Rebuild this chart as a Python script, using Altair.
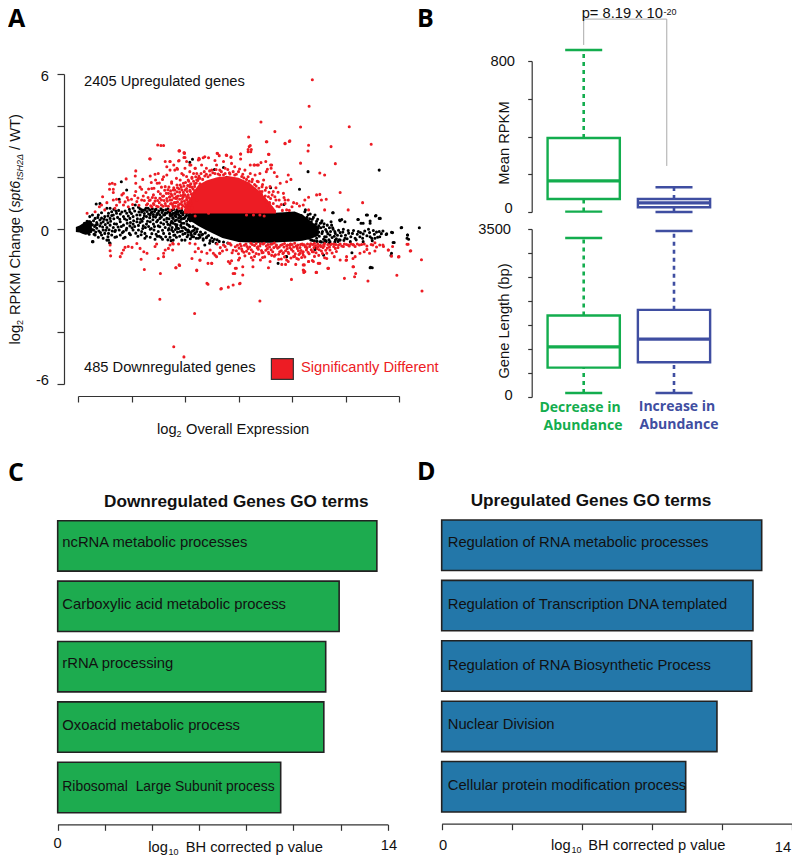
import altair as alt
import pandas as pd

FONT = "Liberation Sans"
RED = "#ed1c24"
GREEN = "#13ad4e"
BLUE = "#3f4ea1"
AXIS = "#333333"

# ---------- Panel A: values (x in axis-tick units, y in log2 change) ----------
red_far_up = [(4.38,5.78),(4.32,4.75),(3.42,4.14),(4.16,3.95),(5.07,3.96),(3.68,3.77),(3.19,3.56),(3.52,3.38),(3.87,3.30),(3.95,3.39),
 (4.31,3.24),(4.30,3.02),(4.73,3.19),(5.48,3.28),(3.20,3.19),(3.24,3.08),(3.18,2.99),(3.57,2.89),(1.49,3.25),(1.55,3.23),(1.60,3.23),
 (1.90,3.03),(1.99,2.92),(1.34,2.72),(2.61,2.92),(2.78,2.85),(2.86,2.80),(3.04,2.90),(2.37,2.80),(2.26,2.74),(4.16,2.55),(4.81,2.53),
 (4.52,2.17),(4.61,2.09),(3.42,2.57),(3.35,2.48),(3.30,2.48),(3.60,2.48),(3.61,2.35),(3.52,2.22)]
red_left_fringe = [(1.35,2.71),(1.08,2.25),(.90,1.94),(.64,1.77),(.59,1.74),(.69,1.73),(1.08,1.77),(.59,1.54),(.66,1.54),(1.07,2.05),(1.21,1.92),
 (1.35,2.05),(1.50,2.15),(.66,1.41),(.85,1.38),(.46,1.25),(.82,1.32),(.66,1.12),(.72,1.15),(.94,1.12),(.54,1.02),(.44,.93),(.17,.61),(.32,.67),
 (.40,.86),(.50,.74),(.69,.80),(.85,.93),(.94,.86),(1.10,1.06),(1.19,1.12),(1.08,1.45),(1.19,1.54),(1.27,1.41),(1.38,1.57),(1.48,1.77),(1.58,1.92),
 (1.66,2.09),(1.72,2.28),(1.63,2.61),(1.72,2.61),(1.88,2.63),(1.79,2.48),(1.86,2.31),(1.66,2.41),(1.89,3.02),(1.98,2.95),(2.00,2.77),(2.11,2.48),
 (2.25,2.67),(2.19,2.35),(1.97,2.09),(2.06,1.90),(2.16,2.15),(2.25,1.96),(1.84,1.96),(1.75,1.77),(1.91,1.70),(1.63,1.64),(1.50,1.45),(1.41,1.32),
 (1.35,1.12),(1.53,1.19),(1.69,1.38),(1.78,1.51),(2.00,1.51),(2.09,1.64),(1.28,.93),(1.41,.99),(1.50,.86),(1.63,.99),(1.72,1.12),(1.84,1.25),(1.94,1.06),
 (2.03,1.25),(2.16,1.38),(1.38,.86),(1.56,.93),(1.78,.86),(1.72,.73),(1.88,.80),(2.00,.86),(2.12,.99),(2.22,1.12),(1.44,1.08),(1.58,1.27),(1.31,1.22),
 (1.66,1.18),(1.74,1.36),(1.83,1.02),(1.90,1.42),(1.97,1.33),(1.79,1.20),(1.62,1.50),(1.70,1.62),(1.86,1.60),(1.94,.95),(2.05,1.02),(2.10,1.15),(2.13,.82),(2.05,.76)]
red_left_dense = [(1.30,.98),(1.33,1.10),(1.36,.90),(1.39,1.22),(1.42,.95),(1.45,1.20),(1.47,.88),(1.49,1.10),(1.52,1.02),(1.54,1.36),(1.56,1.12),(1.59,.88),(1.60,1.28),(1.61,1.10),(1.64,.90),
 (1.65,1.38),(1.67,1.08),(1.68,1.52),(1.69,.88),(1.71,1.24),(1.73,.98),(1.73,1.48),(1.75,1.12),(1.76,1.30),(1.77,.92),(1.79,1.60),(1.80,1.02),(1.81,1.36),(1.82,.88),(1.83,1.18),(1.85,1.44),(1.86,1.05),
 (1.87,1.28),(1.87,.86),(1.89,1.55),(1.90,1.15),(1.91,.98),(1.92,1.30),(1.93,1.62),(1.95,1.18),(1.96,.90),(1.97,1.42),(1.98,1.66),(1.99,1.08),(2.00,1.32),(2.01,1.80),(2.02,.92),(2.03,1.15),(2.04,1.45),
 (2.05,1.68),(2.06,1.02),(2.07,1.22),(2.07,1.85),(2.08,.82),(2.09,1.50),(2.10,1.08),(2.11,1.75),(2.12,1.35),(2.13,2.00),(2.15,1.55),(2.16,1.85),(2.18,1.65),(2.20,2.02),(2.21,1.78),(2.24,1.88),(2.26,2.05),
 (.72,.92),(.78,1.05),(.88,1.05),(.92,1.22),(1.00,1.15),(1.02,.95),(1.06,1.30),(1.12,1.20),(1.14,.92),(1.16,1.62),(1.24,1.10),(1.22,1.28),(1.32,1.55),(1.37,1.80),(1.42,1.58),(1.45,1.90),(1.52,1.78),(1.56,1.62),(1.44,2.12),(1.60,2.02)]
red_top_fringe = [(3.53,3.38),(3.87,3.32),(3.96,3.41),(3.22,3.23),(3.18,3.08),(3.23,2.99),(1.89,3.03),(1.99,2.95),(1.98,2.77),(1.89,2.65),(1.72,2.61),
 (1.85,2.35),(1.81,2.28),(2.34,2.76),(2.44,2.76),(2.27,2.70),(2.60,2.93),(2.64,2.84),(2.77,2.86),(2.86,2.77),(3.04,2.90),(3.04,2.71),(3.56,2.89),(2.56,2.65),
 (2.72,2.61),(2.87,2.54),(3.22,2.48),(3.29,2.48),(3.37,2.48),(3.51,2.61),(3.62,2.48),(3.54,2.31),(3.67,2.19),(3.93,2.09),(3.90,1.83),(3.98,1.92),(3.78,1.77),
 (3.72,2.03),(3.59,1.64),(3.65,1.45),(3.56,1.25),(3.84,1.38),(3.76,1.12),(3.87,.99),(3.93,1.12),(4.00,.86),(4.09,.99),(3.65,.99),(3.76,.86),(3.90,.74),(3.53,.93),
 (2.03,2.61),(2.00,2.35),(2.09,2.48),(2.19,2.35),(2.09,2.22),(2.22,2.15),(2.31,2.48),(2.40,2.35),(2.50,2.28),(2.59,2.48),(2.65,2.28),(2.75,2.35),(2.93,2.41),(3.00,2.22),
 (3.12,2.28),(3.22,2.15),(3.31,2.09),(3.40,2.15),(3.47,1.90),(3.37,1.83),(1.94,2.15),(2.03,2.03),(2.13,1.96),(1.91,1.90),(1.97,1.77),(1.85,1.70),(1.75,1.83),(1.81,1.51),
 (1.94,1.51),(2.03,1.57),(2.09,1.70),(1.72,1.25),(1.85,1.19),(1.97,1.25),(1.75,.99),(1.88,.93),(2.00,.99),(2.06,1.32),(1.78,.80),(1.94,.80),(2.03,.74),(2.09,.93),(2.16,1.19),
 (2.22,1.90),(2.28,1.96),(2.37,2.05),(2.47,2.09),(2.56,2.15),(2.65,2.09),(2.75,2.15),(2.84,2.13),(2.93,2.09),(3.06,2.03),(3.15,1.92),(3.25,1.83),(3.33,1.66),(3.40,1.45),(3.48,1.19),
 (3.56,.80),(2.19,.50),(2.44,.61),(3.15,.54),(3.28,.54),(3.40,.54),(3.48,.50),(2.13,1.62),(2.18,1.75),(2.10,1.45),(2.18,1.48),(2.14,1.28),(2.25,1.55),(2.28,1.75),(2.04,1.12),(3.43,1.35),(3.50,1.50),(3.44,1.64),(3.52,1.05),(3.60,1.18),(3.68,1.25),
 (2.30,2.15),(2.33,1.92),(2.36,2.22),(2.40,2.12),(2.43,2.02),(2.46,2.25),(2.52,2.18),(2.58,2.30),(2.62,2.13),(2.68,2.22),(2.72,2.10),(2.80,2.30),(2.83,2.18),(2.90,2.22),(2.96,2.12),(3.02,2.32),(3.08,2.12),(3.10,1.98),(3.18,2.02),(3.20,1.85),
 (3.26,1.92),(3.30,1.72),(3.35,1.85),(3.38,1.58),(3.44,1.45),(3.45,1.72),(3.50,1.28),(3.52,1.60),(3.57,1.42),(3.58,1.02),(3.63,1.32),(3.62,.82),(3.70,1.12),(3.72,.88),(3.74,1.42),(3.80,.95),(3.82,.72),(3.85,1.22),(3.70,1.60),(3.95,.72)]
red_right = [(5.05,.74),(5.32,1.02),(4.90,1.41),(4.55,1.12),(4.46,1.32),(4.52,1.34),(4.64,1.15),(4.31,1.23),(4.24,1.12),(4.14,.89),(4.03,1.02),(3.87,1.12),(4.31,.74),(4.61,.74),(4.21,.93),
 (5.55,-.53),(5.64,-.62),(5.71,-.68),(5.80,-.81),(5.88,-.68),(6.17,-.59),(6.22,-.84),(6.00,-1.07),(5.86,-1.05),(5.15,-1.46),(4.68,-1.52),(5.02,-1.20),(4.90,-1.20),(4.65,-1.14),(4.52,-1.33),
 (4.40,-1.26),(4.31,-1.26),(4.21,-1.39),(4.87,-.62),(4.96,-.68),(5.05,-.62),(5.15,-.62),(4.81,-.75),(4.71,-.81),(5.40,-.79),(5.55,-.85),(5.45,-.94),(5.27,-.94),(5.18,-1.07),(5.02,-1.07),(4.65,-.94),
 (4.49,-.68),(4.34,-.62),(4.21,-.62),(4.09,-.68),(3.97,-.62),(4.59,-.62),(4.40,-.88),(4.27,-.81),(4.15,-.94),(4.03,-1.07),(3.90,-1.20),(4.21,-1.01),(4.09,-1.14)]
red_down_sparse = [(.60,-.62),(.60,-.84),(.61,-1.04),(.88,-.71),(.94,-.68),(1.01,-.71),(.85,-.81),(.82,-.94),(.79,-1.07),(1.10,-.56),(1.16,-.75),
 (1.23,-.88),(1.18,-1.17),(1.24,-1.57),(1.29,-.94),(1.44,-.68),(1.47,-.58),(1.50,-1.14),(1.60,-.94),(1.63,-.81),(1.69,-.75),(1.72,-.62),(1.78,-.58),
 (1.60,-1.07),(1.54,-1.72),(1.83,-1.50),(1.90,-1.41),(1.53,-2.72),(1.79,-4.56),(1.98,-4.95),(2.18,-3.27),(2.67,-2.32),(2.81,-2.25),(2.90,-2.17),
 (3.02,-2.12),(2.41,-2.10),(2.43,-2.14),(3.40,-2.79),(3.99,-1.95),(4.22,-1.61),(4.22,-1.68),(4.45,-1.68),(4.67,-1.52),(4.98,-1.91),(5.14,-1.46),
 (5.19,-1.72),(5.17,-1.85),(5.42,-2.01),(5.96,-1.79),(5.99,-1.08),(6.21,-.85),(6.42,-1.19),(6.43,-2.40),(6.15,-.59),(5.80,-.81),(5.70,-.62),
 (5.51,-.62),(5.35,-.88),(5.14,-1.14),(5.01,-1.21),(4.79,-1.07),(2.22,-1.61),(2.13,-1.14),(2.28,-1.21),(2.43,-1.33),(2.50,-1.33),(2.53,-.94),
 (2.59,-1.07),(2.65,-.94),(2.90,-1.72),(2.93,-1.72),(2.96,-1.52),(2.84,-1.33),(3.00,-1.20)]
red_down_band = [(1.77,-.55),(1.88,-.58),(1.77,-.81),(1.89,-1.39),(1.83,-1.50),(2.28,-1.20),(2.22,-1.59),(2.50,-1.33),(2.68,-2.30),(3.03,-2.10),(2.09,-.55),(2.19,-.58),(2.19,-.88),(2.25,-.75),(2.31,-.88),
 (2.41,-.94),(2.47,-.81),(2.56,-1.01),(2.65,-.94),(2.72,-.62),(2.81,-.55),(2.81,-1.26),(2.87,-1.23),(2.94,-1.52),(3.08,-1.46),(3.08,-1.78),(3.27,-1.20),(3.27,-1.46),(3.56,-1.50),(3.81,-1.37),(3.88,-1.37),
 (4.07,-1.37),(4.23,-1.39),(4.21,-1.59),(4.24,-1.65),(4.46,-1.68),(4.68,-1.52),
 (2.84,-.56),(2.94,-.69),(3.03,-.58),(3.11,-.63),(3.23,-.55),(3.30,-.64),(3.41,-.57),(3.48,-.55),(3.60,-.59),(3.67,-.54),(3.79,-.63),(3.86,-.56),(3.97,-.58),(4.05,-.55),(4.16,-.60),(4.23,-.61),(4.35,-.57),(4.42,-.55),(4.53,-.63),(4.61,-.56),(4.72,-.60),(4.79,-.58),
 (2.90,-.82),(3.01,-.74),(3.07,-.85),(3.18,-.76),(3.24,-.80),(3.35,-.73),(3.43,-.83),(3.54,-.76),(3.61,-.80),(3.73,-.74),(3.80,-.84),(3.91,-.76),(3.99,-.79),(4.10,-.75),(4.17,-.83),(4.28,-.73),(4.36,-.80),(4.47,-.76),(4.55,-.85),(4.66,-.74),(4.75,-.93),(4.83,-.87),
 (3.00,-.96),(3.12,-1.04),(3.20,-.95),(3.30,-1.06),(3.38,-.98),(3.49,-1.08),(3.57,-.96),(3.67,-1.05),(3.75,-.98),(3.86,-1.08),(3.94,-.95),(4.05,-1.06),(4.13,-.99),(4.24,-1.08),(4.32,-.96),(4.42,-1.06),(4.50,-1.02),(4.61,-1.11),
 (3.41,-1.20),(3.59,-1.26),(3.75,-1.17),(3.93,-1.26),(4.12,-1.17),(4.31,-1.26),(4.49,-1.33),(2.98,-.63),(3.16,-.68),(3.36,-.69),(3.52,-.66),(3.70,-.67),(3.90,-.65),(4.08,-.66),(4.26,-.68),(4.44,-.65),(3.10,-.90),(3.46,-.91),(3.84,-.92),(4.20,-.92),(4.58,-.72)]
red_down_dense = [(2.60,-.58),(2.66,-.72),(2.75,-.68),(2.78,-.80),(2.86,-.62),(2.88,-.92),(2.96,-.84),(3.05,-.66),(3.06,-.78),(3.14,-.58),(3.15,-.86),(3.21,-.70),(3.26,-.60),(3.27,-.88),(3.33,-.56),(3.33,-.95),(3.37,-.78),(3.40,-.66),
 (3.44,-.92),(3.46,-.58),(3.51,-.82),(3.55,-.60),(3.56,-.90),(3.58,-.70),(3.63,-.58),(3.64,-.88),(3.66,-.72),(3.69,-1.00),(3.71,-.62),(3.76,-.70),(3.77,-.88),(3.82,-.60),(3.83,-.95),(3.85,-.70),(3.88,-.84),(3.92,-.62),(3.93,-.90),(3.96,-.72),
 (4.00,-.60),(4.02,-.86),(4.03,-.70),(4.06,-.96),(4.11,-.62),(4.12,-.84),(4.15,-.72),(4.19,-.58),(4.21,-.88),(4.25,-.70),(4.29,-.58),(4.30,-.90),(4.33,-.68),(4.38,-.88),(4.39,-.60),(4.41,-.72),(4.45,-.92),(4.48,-.58),(4.51,-.80),(4.54,-.68),
 (4.57,-.95),(4.60,-.66),(4.63,-.82),(4.67,-.60),(4.70,-.70),(4.74,-.58),(4.78,-.68),(4.82,-.60),(4.86,-.72),(4.90,-.58),(4.93,-.66),(4.98,-.58),(5.02,-.60),(5.07,-.66),(5.10,-.58),(5.14,-.60),(5.18,-.68),(5.22,-.58),(5.26,-.62),(5.30,-.60),
 (5.35,-.58),(5.40,-.66),(5.48,-.60),(5.58,-.70),(3.45,-1.10),(3.62,-1.02),(3.80,-1.16),(3.98,-1.12),(4.18,-1.10),(4.38,-1.22),(2.70,-.85),(3.02,-1.12),(3.24,-1.10)]
black_outliers = [(2.14,2.70),(2.09,2.58),(.81,1.83),(.91,1.51),(.77,1.15),(4.30,2.22),(5.63,2.28),(4.14,1.54),(6.04,.05),(6.38,.05),(6.16,-.23),(6.15,-.36),
 (5.89,-.52),(5.86,-.13),(5.76,-.21),(5.63,.41),(5.56,.50),(5.39,.54),(5.46,.22),(5.29,.22),(5.23,.37),(4.89,.35),(4.76,.63),(4.24,.67),(3.74,-1.33),
 (3.89,-1.07),(5.46,-1.50),(5.50,-1.50),(5.85,-1.03),(4.44,-.75),(.28,-.49),(.54,-.43),(.59,-.53),(2.55,2.30),(2.78,2.00),(3.05,1.80),(3.30,1.25),(3.85,.95),(3.60,1.60),(2.72,2.38)]
black_left = [(.22,.48),(.27,.54),(.32,.41),(.38,.54),(.44,.63),(.50,.48),(.57,.61),(.63,.67),(.67,.76),(.34,.97),(.41,.99),(.54,.80),(.60,.80),(.22,.28),(.29,.32),(.35,.25),(.41,.35),(.47,.28),(.54,.35),(.60,.41),
 (.66,.54),(.72,.61),(.79,.58),(.85,.48),(.91,.61),(.97,.67),(1.03,.80),(1.07,.93),(1.13,.84),(1.19,.74),(1.25,.74),(1.31,.80),(1.38,.67),(1.44,.74),(1.50,.61),(1.56,.74),(1.63,.61),(1.69,.67),
 (.22,.03),(.29,-.04),(.35,.03),(.41,.12),(.47,-.04),(.54,.06),(.60,.15),(.66,.06),(.72,.19),(.79,.28),(.85,.15),(.91,.35),(.97,.41),(1.03,.48),(1.10,.54),(1.16,.54),(1.22,.41),(1.28,.48),(1.35,.54),(1.41,.48),
 (1.47,.54),(1.53,.41),(1.60,.54),(1.66,.41),(1.72,.54),(1.78,.41),(1.84,.58),(.32,-.23),(.38,-.32),(.44,-.23),(.27,-.49),(.50,-.17),(.57,-.17),(.63,-.23),(.69,-.10),(.77,-.04),(.85,-.10),(.91,.03),(.97,.12),
 (1.03,.19),(1.10,.28),(1.16,.25),(1.22,.12),(1.28,.19),(1.35,.28),(1.41,.19),(1.47,.28),(1.53,.09),(1.60,.19),(1.66,.28),(1.72,.15),(1.78,.22),(1.84,.35),(1.91,.28),(1.97,.41),(.47,-.36),(.57,-.43),(.60,-.55),
 (.69,-.32),(.79,-.23),(.88,-.32),(.96,-.17),(1.03,-.04),(1.13,-.04),(1.19,-.10),(1.25,-.17),(1.35,-.01),(1.42,-.04),(1.50,-.10),(1.60,-.17),(1.69,-.04),(1.78,-.10),(1.86,.03),(1.94,.06),(2.00,-.17),(2.06,-.04),
 (2.12,-.23),(2.19,.03),(.85,-.36),(1.25,-.36),(1.35,-.32),(1.44,-.40),(1.55,-.32),(1.72,-.32),(1.84,-.32),(1.94,-.43),(2.00,-.43),(1.72,.62),(1.76,.55),(1.80,.62),(1.83,.48),(1.87,.66),(1.90,.50),(1.93,.62),(1.96,.55),
 (1.99,.66),(2.01,.48),(2.03,.60),(2.06,.40),(2.08,.55),(2.10,.32),(2.12,.48),(1.75,.30),(1.82,.18),(1.88,.42),(1.92,.14),(1.98,.22),(2.04,.18),(2.09,.10),(1.70,.02),(1.76,.06),(1.82,-.02),(1.88,.02),(1.95,-.08),(2.02,-.02),
 (2.08,-.10),(2.14,-.08),(2.18,-.18),(2.22,-.10),(2.26,-.22),(2.16,-.30),(2.21,-.36),(2.28,-.32),(2.34,-.38),(2.40,-.34),(2.10,-.38),(2.04,-.30),(1.75,-.04),(1.84,.09),(1.94,.22),(1.81,-.23),(1.91,-.10),(2.00,.03),
 (1.78,-.43),(2.06,-.23),(2.13,-.30),(2.19,-.17),(2.25,-.36),(2.34,-.43),(2.41,-.30),(2.47,-.45),(2.31,-.23),(2.37,-.62),(1.74,-.45),(.12,.22),(.15,-.14),(.17,.30),(.19,.14),(.21,-.20),(.16,.10),(.24,-.10),(.27,.16),(.30,-.20),(.33,.15)]
black_band_top = [(1.16,.78),(1.19,.66),(1.22,.72),(1.24,.60),(1.27,.80),(1.29,.68),(1.32,.58),(1.34,.74),(1.37,.62),(1.39,.78),(1.41,.56),(1.43,.68),(1.46,.76),(1.48,.60),(1.51,.70),(1.53,.54),(1.55,.78),(1.57,.64),(1.59,.72),(1.62,.55),
 (1.64,.74),(1.66,.62),(1.68,.78),(1.71,.68),(1.73,.50),(1.75,.72),(1.77,.60),(1.79,.76),(1.81,.52),(1.83,.66),(1.85,.74),(1.88,.56),(1.90,.70),(1.92,.48),(1.94,.72),(1.97,.62),(1.99,.42),(2.01,.70),(2.03,.52),(2.05,.66),(2.07,.38),(2.09,.62),(2.11,.45),(2.13,.66),(2.15,.35)]
black_left_dense = [(.13,.05),(.24,.22),(.26,-.02),(.31,.10),(.33,-.12),(.37,.45),(.36,.18),(.39,-.08),(.43,.22),(.44,.42),(.46,.08),(.49,.38),(.51,.17),(.52,-.05),(.56,.50),(.56,.24),(.58,-.03),(.61,.30),(.63,.52),(.64,-.08),(.67,.40),(.68,.20),
 (.71,.70),(.70,-.05),(.74,.45),(.75,.08),(.76,.72),(.78,.38),(.81,.10),(.82,.66),(.83,-.14),(.87,.40),(.88,.70),(.90,-.04),(.92,.22),(.94,.50),(.96,.76),(.98,.25),(1.00,.60),(1.01,.05),(1.04,.32),(1.06,.70),(1.06,.10),(1.08,-.16),(1.11,.40),
 (1.13,.14),(1.14,.66),(1.17,.38),(1.18,-.22),(1.20,.30),(1.21,.02),(1.24,.50),(1.26,.06),(1.28,-.28),(1.30,.30),(1.32,.10),(1.34,.44),(1.37,.02),(1.38,-.18),(1.40,.36),(1.43,.10),(1.45,.46),(1.46,-.20),(1.49,.34),(1.50,.12),(1.52,-.28),(1.55,.24),
 (1.56,.46),(1.58,-.05),(1.61,.36),(1.63,.06),(1.64,-.30),(1.68,.18),(1.70,.40),(1.71,-.18),(1.74,.24),(1.77,.44),(1.79,-.24),(1.81,.32),(1.85,.16),(1.86,-.12),(1.89,.30),(1.90,-.28),(1.93,.38),(1.96,-.20),(1.98,.06),(2.03,.30),(2.05,-.12),(2.07,.14),
 (2.11,-.15),(2.15,.10),(2.17,-.05),(2.23,.00),(2.29,-.12),(2.33,-.20),(2.38,-.15),(2.44,-.25),(2.50,-.35),(2.55,-.40),(2.60,-.42),(2.52,-.48),(2.64,-.48),(2.72,-.50),(2.58,-.55),(2.80,-.54),(2.46,-.55),(1.68,-.42),(1.58,-.40),(1.48,-.28),(1.12,-.28),(.98,-.22),(.72,-.30),(.56,-.30),(.42,-.14)]
black_right = [(4.77,.63),(5.41,.54),(5.57,.52),(5.65,.41),(5.24,.37),(5.33,.22),(5.46,.31),(4.90,.32),(4.93,.37),(4.99,.28),(4.73,.28),(4.74,.15),(6.05,.06),(5.88,-.14),(5.77,-.19),(6.16,-.23),(6.18,-.40),(5.91,-.52),
 (5.86,-.94),(5.47,-1.48),(4.43,.54),(4.34,.58),(4.25,.74),(4.17,.52),(4.56,.32),(4.53,.22),(4.43,.15),(4.34,.22),(4.21,.28),(4.15,.35),(4.49,.03),(4.59,.09),(4.37,-.04),(4.56,-.17),(4.27,.03),(4.65,-.10),(4.71,-.23),
 (4.81,-.17),(4.77,-.01),(4.90,-.14),(4.96,-.01),(5.05,-.06),(5.13,-.17),(5.24,-.10),(5.33,-.19),(5.43,-.01),(5.52,-.06),(5.63,-.10),(5.27,-.30),(5.18,-.36),(5.46,-.30),(5.55,-.36),(5.64,-.30),(4.99,-.36),(4.90,-.43),
 (4.81,-.43),(4.71,-.49),(4.62,-.43),(4.46,-.36),(4.53,-.49),(4.34,-.23),(4.24,-.30),(5.09,-.49),(5.33,-.49),(5.50,-.45),(5.12,-.92),(4.43,-.79),(4.59,-1.01),(3.90,-1.07),(4.38,.38),(4.28,.45),(4.46,.30),(4.40,.08),(4.50,-.12),(4.61,-.30),(4.44,-.22),(4.38,-.44),(4.32,.12)]
black_right_dense = [(4.30,.55),(4.33,.40),(4.36,.28),(4.38,.05),(4.40,.45),(4.42,-.12),(4.45,.20),(4.46,-.02),(4.48,.38),(4.50,.12),(4.51,-.28),(4.54,.05),(4.55,.25),(4.57,-.10),(4.59,-.40),(4.60,.20),(4.63,-.02),(4.64,-.30),(4.66,.15),(4.67,-.18),
 (4.69,-.42),(4.70,.05),(4.72,-.10),(4.75,-.33),(4.76,.05),(4.79,-.28),(4.80,-.10),(4.83,-.38),(4.85,-.24),(4.87,-.05),(4.88,-.42),(4.92,-.26),(4.95,-.12),(4.97,-.44),(5.00,-.24),(5.03,-.38),(5.06,-.16),(5.10,-.30),(5.15,-.06),(5.20,-.42),
 (5.22,-.20),(5.28,-.14),(5.32,-.36),(5.36,-.08),(5.40,-.26),(5.45,-.14),(5.49,-.36),(5.54,-.20),(5.58,-.12),(5.60,-.32),(5.67,-.18),(5.70,-.08),(4.30,.30),(4.28,-.20),(4.31,-.35),(4.35,-.42),(4.42,-.46),(4.47,-.48),(4.55,-.50),(4.60,-.52),(4.64,-.48),(4.70,-.54),(4.80,-.50),(4.86,-.48)]

red_core_x = [1.98,2.05,2.16,2.25,2.40,2.60,2.80,3.00,3.20,3.40,3.55,3.70]
red_core_top = [.75,1.05,1.45,1.70,1.88,2.00,2.05,1.98,1.80,1.45,1.10,.72]
red_core_bottom = [.60,.60,.60,.60,.60,.60,.60,.60,.60,.60,.60,.60]
black_core_x = [2.05,2.15,2.25,2.40,2.70,3.00,3.30,3.60,3.85,4.05,4.20,4.35,4.50]
black_core_top = [.55,.62,.64,.62,.62,.62,.62,.62,.65,.68,.55,.30,.08]
black_core_bottom = [.35,.25,.12,-.05,-.35,-.50,-.53,-.53,-.50,-.48,-.45,-.38,-.26]
black_blob_x = [-.04,.03,.08,.14,.20,.26]
black_blob_top = [.08,.14,.20,.28,.34,.30]
black_blob_bottom = [-.12,-.14,-.18,-.22,-.20,-.12]
ma_y_ticks = [-6,-4,-2,0,2,4,6]
ma_x_ticks = [0,1,2,3,4,5,6]

# ---------- Panel B ----------
box_groups = ["Decrease in Abundance","Increase in Abundance"]
box_pos = [1,2]
rpkm_low = [2,0]; rpkm_q1 = [69,25]; rpkm_med = [165,48]; rpkm_q3 = [392,69]; rpkm_high = [858,131]
len_low = [84,84]; len_q1 = [612,724]; len_med = [1044,1204]; len_q3 = [1698,1816]; len_high = [3312,3458]
rpkm_ticks = [0,200,400,600,800]
len_ticks = [0,500,1000,1500,2000,2500,3000,3500]
bracket_x = [1,1,1.92,1.92]; bracket_y = [885,1022,1022,244]

# ---------- Panels C, D ----------
c_terms = ["ncRNA metabolic processes","Carboxylic acid metabolic process","rRNA processing","Oxoacid metabolic process","Ribosomal \u00a0Large Subunit process"]
c_vals = [13.54,11.94,11.37,11.29,9.46]
c_dy = [-3.1,-1.7,-2.4,-.7,-.2]
c_font = [14.8,14.8,14.8,14.8,13.9]
d_terms = ["Regulation of RNA metabolic processes","Regulation of Transcription DNA templated","Regulation of RNA Biosynthetic Process","Nuclear Division","Cellular protein modification process"]
d_vals = [12.8,12.45,12.4,11.01,9.76]
d_dy = [-2.5,-1,.3,-1.5,-.4]
d_font = [14.8,14.8,14.8,14.8,14.8]
c_ticks = [0,2,4,6,8,10,12,14]
d_ticks = [0,2.8,5.6,8.4,11.2,14]

W, H = 784, 848
def px(v): return v - 8

def txt(x, y, s, size=14.7, color="#111111", weight="normal", style="normal", angle=0, align="left", font=FONT, baseline="middle"):
    return alt.Chart(pd.DataFrame({"label":[s]})).mark_text(fontSize=size, color=color, fontWeight=weight, fontStyle=style, angle=angle,
        align=align, baseline=baseline, font=font).encode(text="label:N", x=alt.value(px(x)), y=alt.value(px(y)))

layers = []
ax_common = dict(title=None, labels=False, grid=False, domainColor=AXIS, tickColor=AXIS, domainWidth=1.2, tickWidth=1.2)

# Panel A
xA = alt.Scale(domain=[0,6], range=[px(78), px(399)])
yA = alt.Scale(domain=[-6,6], range=[px(384), px(74)])
def pts(data, color, axes=False):
    df = pd.DataFrame(data, columns=["x","y"])
    xax = alt.Axis(orient="bottom", offset=px(396)-H, values=ma_x_ticks, tickSize=6, **ax_common) if axes else None
    yax = alt.Axis(orient="left", offset=-px(64), values=ma_y_ticks, tickSize=7, **ax_common) if axes else None
    return alt.Chart(df).mark_circle(size=9.5, opacity=1, color=color).encode(x=alt.X("x:Q", scale=xA, axis=xax), y=alt.Y("y:Q", scale=yA, axis=yax))
def core(xs, top, bottom, color):
    df = pd.DataFrame({"x":xs,"top":top,"bottom":bottom})
    return alt.Chart(df).mark_area(color=color, opacity=1).encode(x=alt.X("x:Q", scale=xA, axis=None), y=alt.Y("top:Q", scale=yA, axis=None), y2="bottom:Q")

layers += [pts(black_left + black_band_top + black_left_dense + black_right + black_right_dense + black_outliers, "#000000", axes=True),
           core(black_blob_x, black_blob_top, black_blob_bottom, "#000000"),
           core(black_core_x, black_core_top, black_core_bottom, "#000000"),
           core(red_core_x, red_core_top, red_core_bottom, RED),
           pts(red_far_up + red_left_fringe + red_left_dense + red_top_fringe + red_right + red_down_sparse + red_down_band + red_down_dense, RED)]
legend_box = pd.DataFrame({"x":[3.615],"x2":[4.025],"y":[-5.02],"y2":[-5.82]})
layers.append(alt.Chart(legend_box).mark_rect(fill=RED, stroke="#333333", strokeWidth=1.2).encode(
    x=alt.X("x:Q", scale=xA, axis=None), x2="x2:Q", y=alt.Y("y:Q", scale=yA, axis=None), y2="y2:Q"))
layers += [txt(84,81.5,"2405 Upregulated genes"), txt(84,368,"485 Downregulated genes"), txt(301,368,"Significantly Different",color=RED),
           txt(49,77,"6",align="right"), txt(49,232,"0",align="right"), txt(49,381,"-6",align="right")]
# rotated y title, pieces bottom to top
layers += [txt(15.5,344.5,"log",angle=270), txt(19.5,325,"2",size=9,angle=270), txt(15.5,315,"RPKM Change (",angle=270),
           txt(15.5,207.5,"spt6",size=14,style="italic",angle=270), txt(19.5,180,"tSH2Δ",size=9,style="italic",angle=270),
           txt(15.5,150,"/ WT)",angle=270)]
layers += [txt(157,430,"log"), txt(176.5,434,"2",size=9), txt(186,430,"Overall Expression")]

# Panel B
xB = alt.Scale(domain=[1,2], range=[px(583.7), px(674)])
def box_panel(low,q1,med,q3,high,yscale,ticks):
    out=[]
    for i,(color) in enumerate([GREEN,BLUE]):
        df = pd.DataFrame({"pos":[box_pos[i]],"left":[box_pos[i]-.4],"right":[box_pos[i]+.4],"capl":[box_pos[i]-.205],"capr":[box_pos[i]+.205],
                           "low":[low[i]],"q1":[q1[i]],"med":[med[i]],"q3":[q3[i]],"high":[high[i]]})
        base = alt.Chart(df)
        yax = alt.Axis(orient="left", offset=-px(531.7), values=ticks, tickSize=4, **ax_common) if (i==0) else None
        xq = alt.X("pos:Q", scale=xB, axis=None)
        out.append(base.mark_rule(color=color, strokeWidth=2.6, strokeDash=[4,4]).encode(x=xq, y=alt.Y("q3:Q", scale=yscale, axis=yax), y2="high:Q"))
        out.append(base.mark_rule(color=color, strokeWidth=2.6, strokeDash=[4,4]).encode(x=xq, y=alt.Y("low:Q", scale=yscale, axis=None), y2="q1:Q"))
        for f in ["low","high"]:
            out.append(base.mark_rule(color=color, strokeWidth=2.4).encode(x=alt.X("capl:Q", scale=xB, axis=None), x2="capr:Q", y=alt.Y(f+":Q", scale=yscale, axis=None)))
        out.append(base.mark_rect(filled=False, stroke=color, strokeWidth=2.4).encode(x=alt.X("left:Q", scale=xB, axis=None), x2="right:Q",
                   y=alt.Y("q1:Q", scale=yscale, axis=None), y2="q3:Q"))
        out.append(base.mark_rule(color=color, strokeWidth=3.2).encode(x=alt.X("left:Q", scale=xB, axis=None), x2="right:Q", y=alt.Y("med:Q", scale=yscale, axis=None)))
    return out
yB1 = alt.Scale(domain=[0,800], range=[px(212), px(61)])
yB2 = alt.Scale(domain=[0,3500], range=[px(397), px(229)])
layers += box_panel(rpkm_low,rpkm_q1,rpkm_med,rpkm_q3,rpkm_high,yB1,rpkm_ticks)
layers += box_panel(len_low,len_q1,len_med,len_q3,len_high,yB2,len_ticks)
br = pd.DataFrame({"x":bracket_x,"y":bracket_y,"o":[0,1,2,3]})
layers.append(alt.Chart(br).mark_line(color="#aaaaaa", strokeWidth=1).encode(x=alt.X("x:Q", scale=xB, axis=None), y=alt.Y("y:Q", scale=yB1, axis=None), order="o:Q"))
layers += [txt(515,62,"800",align="right"), txt(512.7,209,"0",align="right"), txt(511,229.5,"3500",align="right"), txt(512.7,396,"0",align="right"),
           txt(505,143,"Mean RPKM",angle=270,align="center"), txt(505,321,"Gene Length (bp)",angle=270,align="center"),
           txt(581.7,13.5,"p= 8.19 x 10"), txt(663.5,11.5,"-20",size=9)]
BF = "Open Sans"
layers += [txt(580,407.5,"Decrease in",size=14,color=GREEN,weight="bold",align="center",font=BF), txt(583,425.5,"Abundance",size=14,color=GREEN,weight="bold",align="center",font=BF),
           txt(677,406.5,"Increase in",size=14,color=BLUE,weight="bold",align="center",font=BF), txt(679,424.5,"Abundance",size=14,color=BLUE,weight="bold",align="center",font=BF)]

# Panels C, D
def bars(terms, vals, dys, fonts, ticks, color, x0, x1, top, bottom, axis_y, text_x):
    xs = alt.Scale(domain=[0,14], range=[px(x0), px(x1)])
    ys = alt.Scale(type="band", domain=terms, range=[px(top), px(bottom)], paddingInner=.165, paddingOuter=0)
    df = pd.DataFrame({"term":terms,"value":vals})
    out = [alt.Chart(df).mark_bar(color=color, stroke="#222222", strokeWidth=1.6).encode(
        x=alt.X("value:Q", scale=xs, axis=alt.Axis(orient="bottom", offset=px(axis_y)-H, values=ticks, tickSize=6, **ax_common)),
        y=alt.Y("term:N", scale=ys, sort=terms, axis=None))]
    for t,dy,fs in zip(terms,dys,fonts):
        out.append(alt.Chart(pd.DataFrame({"term":[t]})).mark_text(fontSize=fs, color="#111111", align="left", baseline="middle", font=FONT, dy=dy).encode(
            x=alt.value(px(text_x)), y=alt.Y("term:N", scale=ys, sort=terms, axis=None), text="term:N"))
    return out
layers += bars(c_terms,c_vals,c_dy,c_font,c_ticks,"#1dab4f",57.7,387.7,520.7,812.7,824.3,62.3)
layers += bars(d_terms,d_vals,d_dy,d_font,d_ticks,"#2377a9",441.7,791.7,520,812,823.7,447.7)
layers += [txt(104,501.7,"Downregulated Genes GO terms",size=17.2,weight="bold"), txt(470.7,500.7,"Upregulated Genes GO terms",size=17.2,weight="bold"),
           txt(57.7,844,"0",align="center"), txt(389,846,"14",align="center"), txt(443,846,"0",align="center"), txt(783,847.5,"14",align="center"),
           txt(148.3,848,"log"), txt(168.5,852,"10",size=9), txt(185.7,848,"BH corrected p value"),
           txt(551,845.7,"log"), txt(571.5,850,"10",size=9), txt(588.3,845.7,"BH corrected p value")]

# Panel letters
for lx,ly,l in [(8,19,"A"),(417,19,"B"),(8,473,"C"),(417,472,"D")]:
    layers.append(txt(lx,ly,l,size=25,weight="bold",font=BF,color="#000000"))

chart = alt.layer(*layers).resolve_scale(x="independent", y="independent").resolve_axis(x="independent", y="independent").properties(
    width=W, height=H, padding=0, autosize=alt.AutoSizeParams(type="none")).configure_view(stroke=None)
chart.save("out.html", embed_options={"renderer": "svg", "actions": False})
